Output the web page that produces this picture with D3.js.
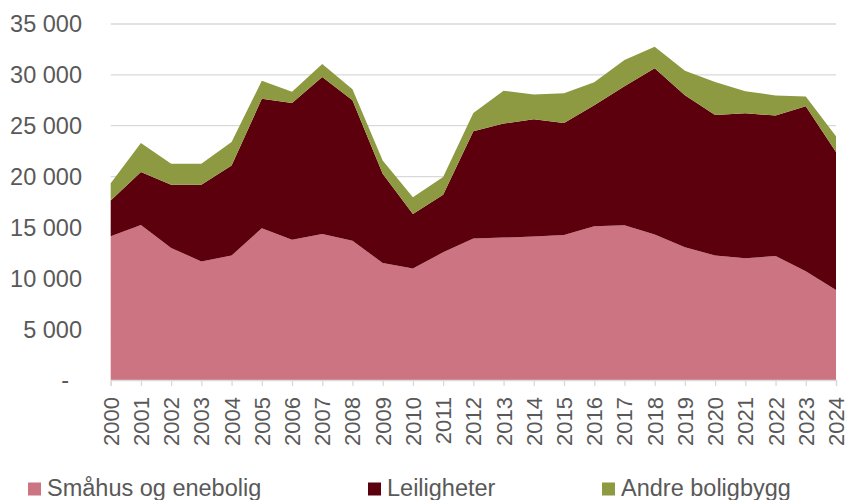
<!DOCTYPE html>
<html>
<head>
<meta charset="utf-8">
<script src="https://cdn.jsdelivr.net/npm/d3@7"></script>
<style>
  html, body { margin: 0; padding: 0; background: #fff; }
  svg { display: block; font-family: "Liberation Sans", Arial, sans-serif; }
</style>
</head>
<body>
<svg id="chart" width="849" height="500"></svg>
<script>
const years = ["2000","2001","2002","2003","2004","2005","2006","2007","2008","2009","2010","2011","2012","2013","2014","2015","2016","2017","2018","2019","2020","2021","2022","2023","2024"];
const smahus = [14130,15250,12980,11660,12230,14920,13800,14360,13700,11500,10970,12550,13900,14000,14100,14260,15120,15210,14300,13040,12250,11960,12190,10680,8840];
const leiligheter = [3520,5190,6210,7530,8870,12720,13440,15440,13800,8780,5360,5660,10550,11210,11530,11010,11890,13680,16360,14960,13810,14270,13810,16240,13570];
const andre = [1700,2860,2080,2080,2300,1770,1090,1260,1090,1310,1640,1740,1810,3220,2440,2930,2270,2560,2100,2400,3250,2160,1970,950,1550];
const seriesNames = ["Småhus og enebolig","Leiligheter","Andre boligbygg"];
const seriesColors = ["#CC7481","#5C000E","#8D9A41"];
const yTicks = [0,5000,10000,15000,20000,25000,30000,35000];

const svg = d3.select("#chart");
const mLeft = 110.7, mRight = 836, mTop = 24, mBottom = 380;

const x = d3.scalePoint().domain(years).range([mLeft, mRight]);
const y = d3.scaleLinear().domain([0, 35000]).range([mBottom, mTop]);

const rows = years.map((yr, i) => ({year: yr, s0: smahus[i], s1: leiligheter[i], s2: andre[i]}));
const stacked = d3.stack().keys(["s0","s1","s2"])(rows);

// gridlines
svg.append("g").selectAll("line").data(yTicks.filter(d => d > 0)).join("line")
  .attr("x1", mLeft).attr("x2", mRight)
  .attr("y1", d => y(d)).attr("y2", d => y(d))
  .attr("stroke", "#D9D9D9").attr("stroke-width", 1.3);

// areas
const area = d3.area()
  .x((d, i) => x(years[i]))
  .y0(d => y(d[0]))
  .y1(d => y(d[1]));
svg.append("g").selectAll("path").data(stacked).join("path")
  .attr("d", area)
  .attr("fill", (d, i) => seriesColors[i]);

// y axis labels
const fmt = v => v === 0 ? "-" : d3.format(",")(v).replace(/,/g, " ");
svg.append("g").selectAll("text").data(yTicks).join("text")
  .attr("x", d => d === 0 ? 69 : 82)
  .attr("y", d => y(d))
  .attr("dy", "0.36em")
  .attr("text-anchor", "end")
  .attr("font-size", 23.5)
  .attr("fill", "#595959")
  .text(fmt);

// x axis
const xAxis = d3.axisBottom(x).tickSize(6).tickFormat("");
const gx = svg.append("g").attr("transform", `translate(0,${mBottom})`).call(xAxis);
gx.select(".domain").attr("stroke", "#D9D9D9").attr("stroke-width", 1.3);
gx.selectAll(".tick line").attr("stroke", "#D9D9D9").attr("stroke-width", 1.3);

svg.append("g").selectAll("text").data(years).join("text")
  .attr("transform", d => `translate(${x(d) + 8},397) rotate(-90)`)
  .attr("text-anchor", "end")
  .attr("font-size", 22)
  .attr("fill", "#595959")
  .text(d => d);

// legend
const legendX = [28, 368, 602];
const lg = svg.append("g").selectAll("g").data(seriesNames).join("g")
  .attr("transform", (d, i) => `translate(${legendX[i]},0)`);
lg.append("rect").attr("x", 0).attr("y", 482.5).attr("width", 13).attr("height", 13)
  .attr("fill", (d, i) => seriesColors[i]);
lg.append("text").attr("x", 19).attr("y", 495.5)
  .attr("font-size", 23.5).attr("fill", "#595959")
  .text(d => d);
</script>
</body>
</html>
